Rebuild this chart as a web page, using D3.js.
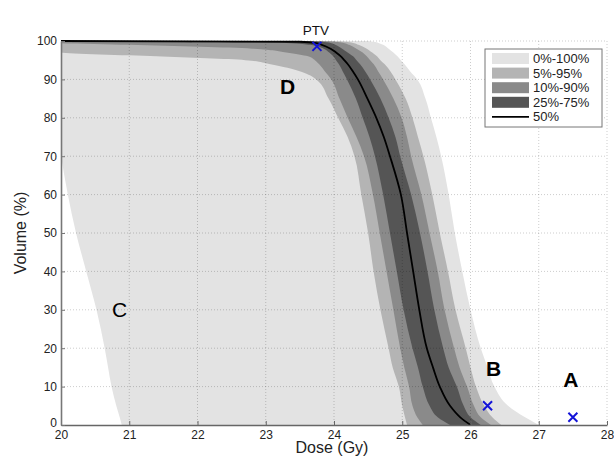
<!DOCTYPE html>
<html>
<head>
<meta charset="utf-8">
<script src="https://cdn.jsdelivr.net/npm/d3@7"></script>
<style>
  html, body { margin: 0; padding: 0; background: #fff; }
  svg { display: block; font-family: Arial, "Liberation Sans", Helvetica, sans-serif; }
</style>
</head>
<body>
<div id="chart"></div>
<script>
// volume levels (%) at which each percentile DVH curve is sampled
const vols = [100, 99.8, 99.5, 99, 98, 97, 96, 95, 94, 92, 90, 85, 80, 75, 70, 60, 50, 40, 30, 20, 15, 10, 5, 2, 0];

// dose (Gy) of each percentile curve at the volume levels above
const p0   = [19.0, 19.0, 19.1, 19.2, 19.3, 19.4, 19.5, 19.55, 19.6, 19.7, 19.75, 19.8, 19.87, 19.95, 20.0, 20.1, 20.22, 20.37, 20.52, 20.64, 20.69, 20.74, 20.81, 20.86, 20.89];
const p5   = [19.0, 19.3, 19.5, 19.7, 19.85, 20.0, 21.4, 22.7, 23.05, 23.52, 23.74, 23.92, 24.06, 24.2, 24.3, 24.4, 24.5, 24.58, 24.68, 24.8, 24.86, 24.95, 25.0, 25.04, 25.07];
const p10  = [19.5, 19.7, 19.9, 21.0, 22.8, 23.3, 23.62, 23.72, 23.78, 23.87, 23.96, 24.08, 24.2, 24.33, 24.44, 24.57, 24.67, 24.77, 24.87, 24.97, 25.03, 25.1, 25.15, 25.22, 25.3];
const p25  = [19.5, 21.0, 23.3, 23.65, 23.85, 23.93, 23.99, 24.03, 24.07, 24.13, 24.19, 24.32, 24.42, 24.52, 24.6, 24.72, 24.82, 24.92, 25.02, 25.15, 25.23, 25.3, 25.4, 25.52, 25.7];
const p50  = [20.0, 23.5, 23.72, 23.82, 23.95, 24.03, 24.1, 24.15, 24.2, 24.28, 24.35, 24.49, 24.62, 24.73, 24.82, 24.98, 25.07, 25.16, 25.25, 25.36, 25.45, 25.55, 25.7, 25.85, 26.0];
const p75  = [23.5, 23.8, 23.95, 24.02, 24.12, 24.2, 24.28, 24.33, 24.38, 24.46, 24.53, 24.68, 24.8, 24.9, 24.97, 25.13, 25.26, 25.37, 25.47, 25.6, 25.68, 25.8, 25.9, 26.0, 26.15];
const p90  = [23.7, 24.0, 24.14, 24.22, 24.33, 24.42, 24.48, 24.53, 24.58, 24.65, 24.72, 24.87, 24.99, 25.07, 25.13, 25.28, 25.4, 25.52, 25.62, 25.76, 25.84, 25.95, 26.05, 26.15, 26.3];
const p95  = [23.8, 24.15, 24.28, 24.36, 24.48, 24.56, 24.63, 24.68, 24.74, 24.83, 24.9, 25.05, 25.15, 25.23, 25.31, 25.44, 25.55, 25.67, 25.78, 25.93, 26.0, 26.08, 26.2, 26.32, 26.45];
const p100 = [24.5, 24.58, 24.65, 24.72, 24.8, 24.87, 24.93, 24.98, 25.03, 25.12, 25.22, 25.34, 25.42, 25.5, 25.57, 25.68, 25.77, 25.88, 26.0, 26.15, 26.25, 26.35, 26.55, 26.8, 27.0];

const bandNames = ["0%-100%", "5%-95%", "10%-90%", "25%-75%"];
const bandLow  = [p0, p5, p10, p25];
const bandHigh = [p100, p95, p90, p75];
const bandColors = ["#e3e3e3", "#b4b4b4", "#8a8a8a", "#555555"];
const medianName = "50%";

// marked points: label, dose, volume
const markNames = ["PTV", "B", "A"];
const markDose  = [23.75, 26.25, 27.5];
const markVol   = [98.6, 5, 2];

const xTicks = [20, 21, 22, 23, 24, 25, 26, 27, 28];
const yTicks = [0, 10, 20, 30, 40, 50, 60, 70, 80, 90, 100];

(() => {
  const width = 614, height = 457;
  const margin = { top: 41, right: 7, bottom: 32, left: 61 };
  const w = width - margin.left - margin.right;
  const h = height - margin.top - margin.bottom;

  const svg = d3.select("#chart").append("svg")
    .attr("width", width).attr("height", height);

  const g = svg.append("g").attr("transform", `translate(${margin.left},${margin.top})`);

  const x = d3.scaleLinear().domain([20, 28]).range([0, w]);
  const y = d3.scaleLinear().domain([0, 100]).range([h, 0]);

  svg.append("defs").append("clipPath").attr("id", "plotclip")
    .append("rect").attr("x", 0).attr("y", -2).attr("width", w).attr("height", h + 2);

  const plot = g.append("g").attr("clip-path", "url(#plotclip)");

  // bands, widest first
  bandNames.forEach((name, i) => {
    const rows = vols.map((v, k) => ({ v, lo: bandLow[i][k], hi: bandHigh[i][k] }));
    const area = d3.area()
      .y(d => y(d.v))
      .x0(d => x(d.lo))
      .x1(d => x(d.hi))
      .curve(d3.curveMonotoneY);
    plot.append("path").datum(rows)
      .attr("d", area)
      .attr("fill", bandColors[i]);
  });

  // grid on top, dotted
  const grid = g.append("g").attr("stroke", "#000").attr("stroke-opacity", 0.2)
    .attr("stroke-dasharray", "1,2").attr("stroke-width", 1);
  xTicks.slice(1).forEach(t => {
    grid.append("line").attr("x1", x(t)).attr("x2", x(t)).attr("y1", 0).attr("y2", h);
  });
  yTicks.slice(1).forEach(t => {
    grid.append("line").attr("x1", 0).attr("x2", w).attr("y1", y(t)).attr("y2", y(t));
  });

  // median line
  const med = vols.map((v, k) => ({ v, d: p50[k] }));
  plot.append("path").datum(med)
    .attr("d", d3.line().y(d => y(d.v)).x(d => x(d.d)).curve(d3.curveMonotoneY))
    .attr("fill", "none").attr("stroke", "#000").attr("stroke-width", 1.8);

  // axes
  const xAxis = d3.axisBottom(x).tickValues(xTicks).tickSizeInner(-4).tickSizeOuter(0).tickPadding(5);
  const yAxis = d3.axisLeft(y).tickValues(yTicks).tickSizeInner(-4).tickSizeOuter(0).tickPadding(4);

  g.append("g").attr("transform", `translate(0,${h})`).call(xAxis)
    .call(a => a.select(".domain").attr("stroke", "#666").attr("stroke-width", 1.6))
    .call(a => a.selectAll("line").attr("stroke", "#666"))
    .call(a => a.selectAll("text").attr("fill", "#222").style("font-size", "12px"));

  g.append("g").call(yAxis)
    .call(a => a.select(".domain").attr("stroke", "#777").attr("stroke-width", 1.6))
    .call(a => a.selectAll("line").attr("stroke", "#777"))
    .call(a => a.selectAll("text").attr("fill", "#222").style("font-size", "12px"))
    .call(a => a.selectAll(".tick text").filter(d => d === 0).attr("dy", "0.1em"));

  g.append("text")
    .attr("x", w / 2 - 2).attr("y", h + 28)
    .attr("text-anchor", "middle").attr("fill", "#222")
    .style("font-size", "16px")
    .text("Dose (Gy)");

  g.append("text")
    .attr("transform", `translate(${20 - margin.left},${h / 2}) rotate(-90)`)
    .attr("text-anchor", "middle").attr("dy", "0.35em").attr("fill", "#222")
    .style("font-size", "16px")
    .text("Volume (%)");

  // markers
  markNames.forEach((name, i) => {
    const cx = x(markDose[i]), cy = y(markVol[i]), s = 4.5;
    g.append("path")
      .attr("d", `M${cx - s},${cy - s}L${cx + s},${cy + s}M${cx - s},${cy + s}L${cx + s},${cy - s}`)
      .attr("stroke", "#1414d8").attr("stroke-width", 2).attr("fill", "none");
  });

  // annotations
  g.append("text").attr("x", x(23.75) - 1).attr("y", -6)
    .attr("text-anchor", "middle").attr("fill", "#111").style("font-size", "13.5px").text("PTV");

  const letters = [
    { t: "D", d: 23.32, v: 88.0, bold: true },
    { t: "C", d: 20.86, v: 30.0, bold: false },
    { t: "B", d: 26.34, v: 14.8, bold: true },
    { t: "A", d: 27.47, v: 11.7, bold: true }
  ];
  letters.forEach(l => {
    g.append("text").attr("x", x(l.d)).attr("y", y(l.v))
      .attr("text-anchor", "middle").attr("dy", "0.35em")
      .attr("fill", "#000")
      .style("font-size", "21px")
      .style("font-weight", l.bold ? "bold" : "normal")
      .text(l.t);
  });

  // legend
  const lg = svg.append("g").attr("transform", "translate(485,49)");
  lg.append("rect").attr("width", 117).attr("height", 78)
    .attr("fill", "#fff").attr("stroke", "#777").attr("stroke-width", 1);
  const names = bandNames.concat([medianName]);
  names.forEach((name, i) => {
    const row = lg.append("g").attr("transform", `translate(7,${9.5 + i * 14.6})`);
    if (i < bandNames.length) {
      row.append("rect").attr("x", 0).attr("y", -5.5).attr("width", 37).attr("height", 11)
        .attr("fill", bandColors[i]);
    } else {
      row.append("line").attr("x1", 0).attr("x2", 37).attr("y1", 0).attr("y2", 0)
        .attr("stroke", "#000").attr("stroke-width", 1.8);
    }
    row.append("text").attr("x", 41).attr("y", 0).attr("dy", "0.35em")
      .attr("fill", "#222").style("font-size", "13px").text(name);
  });
})();
</script>
</body>
</html>
